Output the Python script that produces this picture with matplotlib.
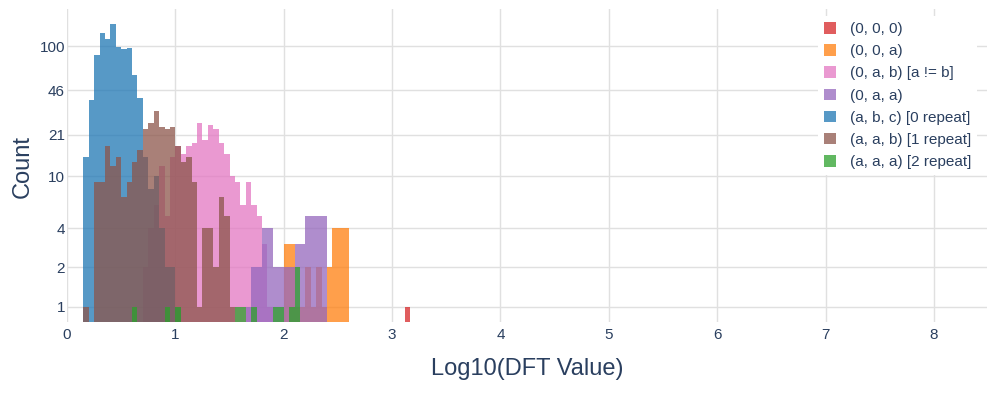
import numpy as np
import matplotlib
matplotlib.use("Agg")
import matplotlib.pyplot as plt
from matplotlib.patches import Patch

plt.rcParams['font.family'] = ['Liberation Sans', 'DejaVu Sans']

# shared histogram bins: left edge of bin k is BIN0 + k * BINW
BIN0 = 0.15
BINW = 0.05

labels = ["(0, 0, 0)", "(0, 0, a)", "(0, a, b) [a != b]", "(0, a, a)",
          "(a, b, c) [0 repeat]", "(a, a, b) [1 repeat]", "(a, a, a) [2 repeat]"]
colors = ["#d62728", "#ff7f0e", "#e377c2", "#9467bd", "#1f77b4", "#8c564b", "#2ca02c"]

# counts per bin, each list starts at the given bin index
red_x = [3.115]
red_counts = [1]

orange_start = 37
orange_counts = [3, 3, 1, 1, 2, 1, 2, 1, 2, 4, 4, 4]

pink_start = 11
pink_counts = [2, 4, 6, 12, 5, 14, 17, 15, 17, 18, 26, 19, 25, 23, 18, 15, 10, 9,
               6, 9, 6, 5, 3, 1]

purple_start = 30
purple_counts = [1, 2, 2, 4, 4, 2, 2, 2, 2, 3, 3, 5, 5, 5, 5]

blue_start = 0
blue_counts = [14, 39, 86, 126, 115, 150, 99, 95, 97, 60, 40, 14, 8, 10, 4, 2, 2, 1]

brown_start = 0
brown_counts = [1, 0, 9, 9, 17, 12, 14, 7, 9, 13, 16, 23, 26, 32, 24, 23, 24, 17,
                13, 14, 9, 1, 4, 4, 2, 7, 5, 1]

green_bins = [9, 15, 17, 28, 29, 31, 35, 36, 38, 39]
green_counts = [1, 1, 1, 1, 1, 1, 1, 1, 1, 2]

yticks = [1, 2, 4, 10, 21, 46, 100]

text_col = "#2a3f5f"
grid_col = "#e0e0e0"

fig = plt.figure(figsize=(9.97, 3.99), dpi=100)
ax = fig.add_axes([67/997, 1-322/399, 920/997, 313/399])


def edges(start, n):
    return BIN0 + BINW * (start + np.arange(n))


series = [
    (np.array(red_x), red_counts),
    (edges(orange_start, len(orange_counts)), orange_counts),
    (edges(pink_start, len(pink_counts)), pink_counts),
    (edges(purple_start, len(purple_counts)), purple_counts),
    (edges(blue_start, len(blue_counts)), blue_counts),
    (edges(brown_start, len(brown_counts)), brown_counts),
    (BIN0 + BINW * np.array(green_bins), green_counts),
]

for (x, c), col in zip(series, colors):
    c = np.array(c, dtype=float)
    keep = c > 0
    ax.bar(x[keep], c[keep], width=BINW, align='edge', color=col, alpha=0.75,
           linewidth=0, zorder=2)

ax.set_yscale('log')
ax.set_ylim(0.76, 194)
ax.set_xlim(0, 8.49)
ax.set_yticks(yticks)
ax.set_yticklabels([str(v) for v in yticks])
ax.yaxis.set_minor_locator(matplotlib.ticker.NullLocator())
ax.set_xticks(range(0, 9))

ax.grid(True, color=grid_col, linewidth=1)
ax.set_axisbelow(True)
for s in ax.spines.values():
    s.set_visible(False)
ax.tick_params(length=0, labelsize=11, colors=text_col)
ax.tick_params(axis='x', pad=4.5)
ax.tick_params(axis='y', pad=1.5)

# axis titles
fig.text(527/997, 1-369/399, "Log10(DFT Value)", fontsize=17, color=text_col,
         ha='center', va='center')
fig.text(23/997, 1-167/399, "Count", fontsize=17, color=text_col,
         ha='center', va='center', rotation=90)

handles = [Patch(facecolor=col, alpha=0.75, linewidth=0) for col in colors]
leg = ax.legend(handles, labels, loc='upper left', bbox_to_anchor=(818/997, 1-16/399),
                bbox_transform=fig.transFigure, frameon=True, fontsize=11,
                handlelength=0.78, handleheight=0.78, handletextpad=0.9,
                labelspacing=0.53, borderpad=0.4, borderaxespad=0)
leg.get_frame().set_facecolor('white')
leg.get_frame().set_edgecolor('none')
leg.get_frame().set_alpha(1)
for t in leg.get_texts():
    t.set_color(text_col)

fig.savefig("out.png", dpi=100)
